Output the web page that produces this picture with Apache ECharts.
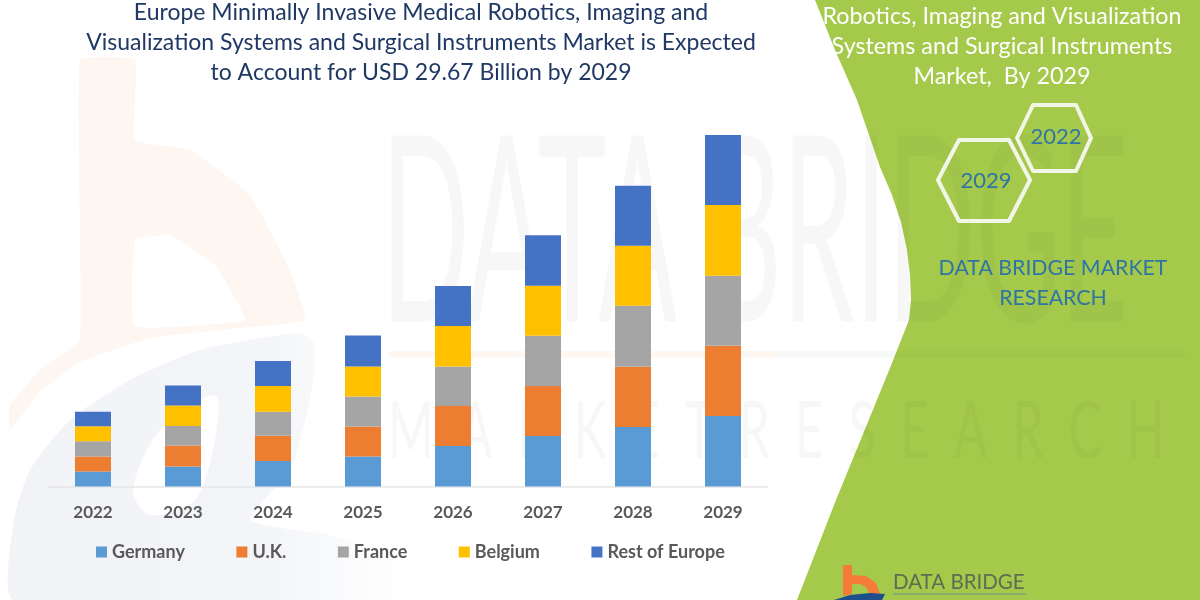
<!DOCTYPE html>
<html>
<head>
<meta charset="utf-8">
<style>
  html, body { margin: 0; padding: 0; background: #fff; }
  #main { width: 1200px; height: 600px; }
</style>
<script src="https://cdn.jsdelivr.net/npm/echarts@6/dist/echarts.min.js"></script>
</head>
<body>
<div id="main"></div>
<script>
// values in USD billion (2029 adds up to 29.67)
const years = ["2022", "2023", "2024", "2025", "2026", "2027", "2028", "2029"];
const germany = [1.27, 1.69, 2.15, 2.53, 3.42, 4.26, 5.02, 5.95];
const uk = [1.27, 1.77, 2.14, 2.53, 3.38, 4.22, 5.09, 5.93];
const france = [1.27, 1.65, 2.03, 2.53, 3.33, 4.25, 5.15, 5.91];
const belgium = [1.27, 1.73, 2.17, 2.53, 3.42, 4.22, 5.06, 5.97];
const restOfEurope = [1.24, 1.69, 2.11, 2.62, 3.38, 4.25, 5.06, 5.91];

const titleText =
  "Europe Minimally Invasive Medical Robotics, Imaging and\n" +
  "Visualization Systems and Surgical Instruments Market is Expected\n" +
  "to Account for USD 29.67 Billion by 2029";
const panelText =
  "Robotics, Imaging and Visualization\nSystems and Surgical Instruments\nMarket,  By 2029";

const FONT = "Lato";
const GREY = "#595959";

const chartDom = document.getElementById("main");
const myChart = echarts.init(chartDom);

function stack(name, data, color) {
  return { name, data, type: "bar", stack: "total", barWidth: 36, itemStyle: { color } };
}

function poly(points, fill, z, smooth) {
  return { type: "polygon", z: z || 0, silent: true, shape: { points, smooth: smooth || 0 }, style: { fill } };
}

function label(x, y, text, font, fill) {
  return { type: "text", z: 1, silent: true, x, y, style: { text, font, fill, align: "center", lineHeight: 30 } };
}

// the pale blue part of the logo fades out to the right
const paleBlue = {
  type: "linear", x: 0, y: 0, x2: 1, y2: 0,
  colorStops: [{ offset: 0, color: "#f1f3f7" }, { offset: 0.65, color: "#f3f5f8" }, { offset: 1, color: "#ffffff" }]
};

// decoration behind the chart: pale logo, green panel, watermark, small logo
const background = [
  poly([[14, 600], [14, 520], [30, 470], [70, 420], [130, 380], [200, 350], [300, 333], [315, 345], [310, 400], [290, 470], [250, 520], [330, 535], [400, 560], [400, 600]], paleBlue, 0, 0.2),
  poly([[133, 490], [160, 430], [215, 395], [215, 440], [195, 500], [150, 515]], "#fff", 0, 0.3),
  poly([[80, 60], [135, 60], [135, 140], [190, 150], [250, 195], [290, 270], [305, 320], [240, 328], [150, 338], [80, 362], [40, 392], [10, 430], [10, 405], [40, 370], [80, 340]], "#fef6f0", 0, 0.1),
  poly([[135, 240], [170, 235], [215, 265], [245, 320], [135, 326]], "#fff", 0, 0.1),
  poly([[388, 351], [780, 351], [780, 358], [388, 358]], "#fef7f2"),
  // green panel
  poly([[815, 0], [835, 50], [857, 100], [880, 167], [892, 195], [901, 222], [907, 250], [910, 275], [911, 300], [909, 320], [890, 368], [836, 500], [797, 600], [1200, 600], [1200, 0]], "#a5c94a"),
  poly([[780, 351], [1185, 351], [1185, 358], [780, 358]], "rgba(70,90,110,0.04)"),
  // big watermark text
  { type: "text", z: 0, silent: true, x: 381, y: 108, scaleX: 0.775, scaleY: 1.73,
    style: { text: "DATA BRIDGE", font: "400 150px Lato", fill: "rgba(60,60,60,0.04)" } },
  { type: "text", z: 0, silent: true, x: 388, y: 392, scaleX: 1.23, scaleY: 2,
    style: { text: "M  A  R  K  E  T  R  E  S  E  A  R  C  H", font: "400 40px Lato", fill: "rgba(60,60,60,0.04)" } },
  // right panel
  label(1002, 1, panelText, "400 23.3px Lato", "#fff"),
  { type: "polygon", z: 1, silent: true,
    shape: { points: [[938, 180], [959, 140], [1009, 140], [1030, 180], [1009, 221], [959, 221]] },
    style: { fill: "none", stroke: "#f2f6e6", lineWidth: 4, lineJoin: "round" } },
  { type: "polygon", z: 1, silent: true,
    shape: { points: [[1017, 138], [1033, 105], [1076, 105], [1091, 138], [1076, 171], [1033, 171]] },
    style: { fill: "none", stroke: "#f2f6e6", lineWidth: 4, lineJoin: "round" } },
  label(986, 166, "2029", "400 22px Lato", "#2e75a6"),
  label(1056, 122, "2022", "400 22px Lato", "#2e75a6"),
  label(1053, 253, "DATA BRIDGE MARKET\nRESEARCH", "400 21.3px Lato", "#2e75a6"),
  // small logo at the bottom
  poly([[843, 565], [852, 565], [852, 575], [866, 576], [876, 583], [880, 594], [870, 594], [866, 587], [860, 584], [852, 584], [852, 594], [843, 596]], "#f47b38", 1),
  poly([[834, 600], [850, 595], [870, 593], [885, 594], [882, 600]], "#1f4e8c", 1),
  { type: "text", z: 1, silent: true, x: 893, y: 572,
    style: { text: "DATA BRIDGE", font: "400 20.5px Lato", fill: "#5f6b52" } },
  { type: "line", z: 1, silent: true, shape: { x1: 893, y1: 594, x2: 1026, y2: 594 },
    style: { stroke: "#6f8f8a", lineWidth: 1 } }
];

const option = {
  animation: false,
  backgroundColor: "#fff",
  title: {
    text: titleText,
    left: 416,
    top: -7,
    textAlign: "center",
    textStyle: { fontFamily: FONT, fontSize: 23, fontWeight: 400, color: "#1f3864", lineHeight: 30 }
  },
  legend: {
    left: 91,
    top: 538,
    icon: "rect",
    itemWidth: 11,
    itemHeight: 11,
    itemGap: 51.5,
    textStyle: { fontFamily: FONT, fontSize: 18, fontWeight: 700, color: GREY }
  },
  grid: { left: 48, right: 432, top: 131.1, bottom: 113.5 },
  xAxis: {
    type: "category",
    data: years,
    axisLine: { lineStyle: { color: "#e6e6e6", width: 1.5 } },
    axisTick: { show: false },
    axisLabel: { fontFamily: FONT, fontSize: 17, fontWeight: 700, color: GREY, margin: 18 }
  },
  yAxis: { type: "value", min: 0, max: 30, show: false, splitLine: { show: false } },
  series: [
    stack("Germany", germany, "#5b9bd5"),
    stack("U.K.", uk, "#ed7d31"),
    stack("France", france, "#a5a5a5"),
    stack("Belgium", belgium, "#ffc000"),
    stack("Rest of Europe", restOfEurope, "#4472c4")
  ],
  graphic: { elements: background }
};
myChart.setOption(option);
</script>
</body>
</html>
